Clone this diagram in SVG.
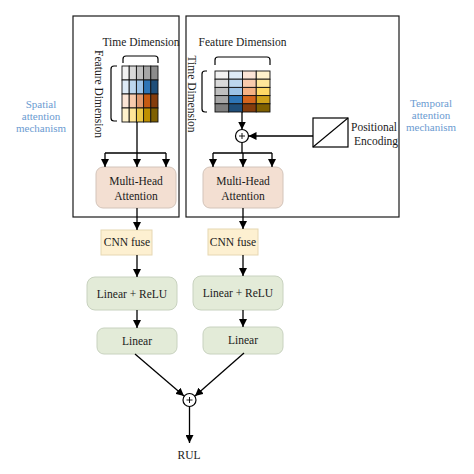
<svg xmlns="http://www.w3.org/2000/svg" width="474" height="474" viewBox="0 0 474 474">
<defs>
<marker id="ah" viewBox="0 0 10 10" refX="10" refY="5" markerWidth="8" markerHeight="8" markerUnits="userSpaceOnUse" orient="auto"><path d="M0,0 L10,5 L0,10 z" fill="#000"/></marker>
<style>
text{font-family:"Liberation Serif","Times New Roman",serif;font-size:11.5px;fill:#1a1a1a}
.lbl{fill:#6b9bd1;font-size:11px}
.frame{fill:none;stroke:#1a1a1a;stroke-width:1.2}
.ln{fill:none;stroke:#000;stroke-width:1.3}
.arr{fill:none;stroke:#000;stroke-width:1.3;marker-end:url(#ah)}
.br{fill:none;stroke:#000;stroke-width:1.2}
.cell{stroke:#111;stroke-width:0.9}
.mha{fill:#f3dfd2;stroke:#d3c4ba;stroke-width:1}
.cnn{fill:#fdf0d1;stroke:#e6d7b2;stroke-width:1}
.lin{fill:#e3ebd8;stroke:#c8d2bf;stroke-width:1}
.plus{fill:#fff;stroke:#000;stroke-width:1.2}
</style>
</defs>
<rect width="474" height="474" fill="#fff"/>

<g id="spatial-frame"><rect class="frame" x="73" y="16" width="106" height="201"/></g>
<g id="temporal-frame"><rect class="frame" x="186" y="16" width="213" height="201"/></g>

<g id="spatial-label">
<text class="lbl" x="41" y="108" text-anchor="middle">Spatial</text>
<text class="lbl" x="41" y="120" text-anchor="middle">attention</text>
<text class="lbl" x="41" y="132" text-anchor="middle">mechanism</text>
</g>
<g id="temporal-label">
<text class="lbl" x="431" y="107" text-anchor="middle">Temporal</text>
<text class="lbl" x="431" y="119" text-anchor="middle">attention</text>
<text class="lbl" x="431" y="131" text-anchor="middle">mechanism</text>
</g>

<g id="spatial-input">
<text x="141" y="46" text-anchor="middle">Time Dimension</text>
<text transform="translate(95,94) rotate(90)" text-anchor="middle">Feature Dimension</text>
<path class="br" d="M123,63 L123,59 Q123,56 126,56 L155,56 Q158,56 158,59 L158,63"/>
<path class="br" d="M117,66 L114,66 Q111,66 111,69 L111,118 Q111,121 114,121 L117,121"/>
<g>
<rect class="cell" x="122" y="66" width="7.2" height="14" fill="#f2f2f2"/>
<rect class="cell" x="129.2" y="66" width="7.2" height="14" fill="#d9d9d9"/>
<rect class="cell" x="136.4" y="66" width="7.2" height="14" fill="#bfbfbf"/>
<rect class="cell" x="143.6" y="66" width="7.2" height="14" fill="#a6a6a6"/>
<rect class="cell" x="150.8" y="66" width="7.2" height="14" fill="#8c8c8c"/>
<rect class="cell" x="122" y="80" width="7.2" height="14" fill="#deebf7"/>
<rect class="cell" x="129.2" y="80" width="7.2" height="14" fill="#bdd7ee"/>
<rect class="cell" x="136.4" y="80" width="7.2" height="14" fill="#9dc3e6"/>
<rect class="cell" x="143.6" y="80" width="7.2" height="14" fill="#2e75b6"/>
<rect class="cell" x="150.8" y="80" width="7.2" height="14" fill="#1f4e79"/>
<rect class="cell" x="122" y="94" width="7.2" height="14" fill="#fbe5d6"/>
<rect class="cell" x="129.2" y="94" width="7.2" height="14" fill="#f8cbad"/>
<rect class="cell" x="136.4" y="94" width="7.2" height="14" fill="#e09a70"/>
<rect class="cell" x="143.6" y="94" width="7.2" height="14" fill="#c55a11"/>
<rect class="cell" x="150.8" y="94" width="7.2" height="14" fill="#843c0c"/>
<rect class="cell" x="122" y="108" width="7.2" height="14" fill="#fff2cc"/>
<rect class="cell" x="129.2" y="108" width="7.2" height="14" fill="#ffe699"/>
<rect class="cell" x="136.4" y="108" width="7.2" height="14" fill="#ecc94a"/>
<rect class="cell" x="143.6" y="108" width="7.2" height="14" fill="#bf9000"/>
<rect class="cell" x="150.8" y="108" width="7.2" height="14" fill="#7f6000"/>
</g>
</g>

<g id="temporal-input">
<text x="242.5" y="46" text-anchor="middle">Feature Dimension</text>
<text transform="translate(188,94) rotate(90)" text-anchor="middle">Time Dimension</text>
<path class="br" d="M215,65 L215,60 Q215,57 218,57 L267,57 Q270,57 270,60 L270,65"/>
<path class="br" d="M207,71 L205,71 Q202,71 202,74 L202,109 Q202,112 205,112 L207,112"/>
<g>
<rect class="cell" x="215" y="71" width="13.75" height="8.2" fill="#f2f2f2"/>
<rect class="cell" x="215" y="79.2" width="13.75" height="8.2" fill="#d9d9d9"/>
<rect class="cell" x="215" y="87.4" width="13.75" height="8.2" fill="#bfbfbf"/>
<rect class="cell" x="215" y="95.6" width="13.75" height="8.2" fill="#a6a6a6"/>
<rect class="cell" x="215" y="103.8" width="13.75" height="8.2" fill="#7f7f7f"/>
<rect class="cell" x="228.75" y="71" width="13.75" height="8.2" fill="#deebf7"/>
<rect class="cell" x="228.75" y="79.2" width="13.75" height="8.2" fill="#bdd7ee"/>
<rect class="cell" x="228.75" y="87.4" width="13.75" height="8.2" fill="#9dc3e6"/>
<rect class="cell" x="228.75" y="95.6" width="13.75" height="8.2" fill="#2e75b6"/>
<rect class="cell" x="228.75" y="103.8" width="13.75" height="8.2" fill="#1f4e79"/>
<rect class="cell" x="242.5" y="71" width="13.75" height="8.2" fill="#fbe5d6"/>
<rect class="cell" x="242.5" y="79.2" width="13.75" height="8.2" fill="#f8cbad"/>
<rect class="cell" x="242.5" y="87.4" width="13.75" height="8.2" fill="#f4b183"/>
<rect class="cell" x="242.5" y="95.6" width="13.75" height="8.2" fill="#d5651d"/>
<rect class="cell" x="242.5" y="103.8" width="13.75" height="8.2" fill="#843c0c"/>
<rect class="cell" x="256.25" y="71" width="13.75" height="8.2" fill="#fff2cc"/>
<rect class="cell" x="256.25" y="79.2" width="13.75" height="8.2" fill="#ffe699"/>
<rect class="cell" x="256.25" y="87.4" width="13.75" height="8.2" fill="#ffd966"/>
<rect class="cell" x="256.25" y="95.6" width="13.75" height="8.2" fill="#cfa21a"/>
<rect class="cell" x="256.25" y="103.8" width="13.75" height="8.2" fill="#7f6000"/>
</g>
</g>

<g id="pos-add">
<circle class="plus" cx="242" cy="136" r="6.5"/>
<path d="M239,136 H245 M242,133 V139" stroke="#000" stroke-width="0.9"/>
</g>

<g id="positional-encoding">
<rect x="313" y="118" width="35" height="29" fill="#fff" stroke="#000" stroke-width="1.2"/>
<path d="M313,147 L348,118" stroke="#000" stroke-width="1.1"/>
<text x="351" y="131">Positional</text>
<text x="354" y="145">Encoding</text>
</g>

<g id="mha-spatial">
<rect class="mha" x="96" y="167" width="80" height="41" rx="7"/>
<text x="136" y="185" text-anchor="middle">Multi-Head</text>
<text x="136" y="200" text-anchor="middle">Attention</text>
</g>
<g id="mha-temporal">
<rect class="mha" x="203" y="167" width="80" height="41" rx="7"/>
<text x="243" y="185" text-anchor="middle">Multi-Head</text>
<text x="243" y="200" text-anchor="middle">Attention</text>
</g>

<g id="cnn-spatial">
<rect class="cnn" x="101" y="230" width="51" height="25"/>
<text x="127" y="246" text-anchor="middle">CNN fuse</text>
</g>
<g id="cnn-temporal">
<rect class="cnn" x="208" y="229" width="50" height="26"/>
<text x="233" y="246" text-anchor="middle">CNN fuse</text>
</g>

<g id="linrelu-spatial">
<rect class="lin" x="87" y="277" width="90" height="33" rx="8"/>
<text x="132" y="298" text-anchor="middle">Linear + ReLU</text>
</g>
<g id="linrelu-temporal">
<rect class="lin" x="193" y="276" width="90" height="34" rx="8"/>
<text x="238" y="297" text-anchor="middle">Linear + ReLU</text>
</g>

<g id="linear-spatial">
<rect class="lin" x="97" y="328" width="80" height="26" rx="7"/>
<text x="137" y="345" text-anchor="middle">Linear</text>
</g>
<g id="linear-temporal">
<rect class="lin" x="203" y="327" width="80" height="27" rx="7"/>
<text x="243" y="344" text-anchor="middle">Linear</text>
</g>

<g id="sum">
<circle class="plus" cx="189.5" cy="400" r="6.5"/>
<path d="M186.5,400 H192.5 M189.5,397 V403" stroke="#000" stroke-width="0.9"/>
</g>

<g id="rul"><text x="189" y="459" text-anchor="middle">RUL</text></g>

<g id="connectors">
<path class="ln" d="M137,122 V153 M105,153 H166"/>
<path class="arr" d="M105,153 V167"/>
<path class="arr" d="M137,153 V167"/>
<path class="arr" d="M166,153 V167"/>
<path class="arr" d="M242,112 V129.5"/>
<path class="arr" d="M313,136 H248.5"/>
<path class="ln" d="M242,142.5 V153 M213,153 H272"/>
<path class="arr" d="M213,153 V167"/>
<path class="arr" d="M243,153 V167"/>
<path class="arr" d="M272,153 V167"/>
<path class="arr" d="M137,208 V230"/>
<path class="arr" d="M243,208 V229"/>
<path class="arr" d="M137,255 V277"/>
<path class="arr" d="M243,255 V276"/>
<path class="arr" d="M137,310 V328"/>
<path class="arr" d="M243,310 V327"/>
<path class="arr" d="M135,354 L184,396"/>
<path class="arr" d="M244,353 L195,396"/>
<path class="arr" d="M189.5,406.5 V443"/>
</g>
</svg>
